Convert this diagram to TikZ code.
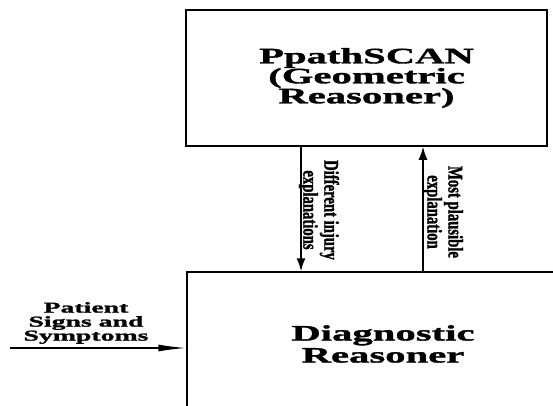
\documentclass[tikz,border=0pt]{standalone}
\usepackage{fontspec}
\usepackage{tikz}
\usetikzlibrary{arrows.meta}
\newfontfamily\widefont{Liberation Serif}[FakeStretch=1.85,FakeBold=1.6]
\newfontfamily\tallfont{Liberation Serif}[FakeStretch=0.7,FakeBold=1.2]

\begin{document}
\begin{tikzpicture}[x=1pt,y=1pt,
		reasoner/.style={draw, line width=1.5pt, inner sep=0pt, align=center},
		flow/.style={line width=1.5pt, -{Latex[length=13pt,width=9pt]}},
		flowlabel/.style={rotate=-90, align=center, inner sep=0pt,
			font=\tallfont\bfseries\fontsize{21}{21}\selectfont}]
			\clip (0,0) rectangle (553,-406);
			\node[reasoner, minimum width=361pt, minimum height=136pt,
				font=\widefont\bfseries\fontsize{22}{20}\selectfont] (geo) at (366.5,-78) {PpathSCAN\\(Geometric\\Reasoner)};
			\node[reasoner, minimum width=392pt, minimum height=144pt,
				font=\widefont\bfseries\fontsize{22}{22}\selectfont] (diag) at (383,-344) {Diagnostic\\Reasoner};

			% the two links between the reasoners
			\draw[flow] ([xshift=-65.5pt]geo.south) -- ([xshift=-65.5pt]geo.south |- diag.north);
			\draw[flow] ([xshift=56.5pt]geo.south |- diag.north) -- ([xshift=56.5pt]geo.south);
			\node[flowlabel] (diffexp) at (319,-210) {Different injury\\explanations};
			\node[flowlabel] (plausexp) at (443,-212) {Most plausible\\explanation};

			% input from the left
			\node[inner sep=0pt, align=center,
				font=\widefont\bfseries\fontsize{15}{14}\selectfont] (signs) at (86,-323) {Patient\\Signs and\\Symptoms};
			\coordinate (src) at (10,-348);
			\draw[line width=1.5pt, -{Latex[length=28pt,width=7pt]}] (src) -- (src -| diag.west);
\end{tikzpicture}
\end{document}
